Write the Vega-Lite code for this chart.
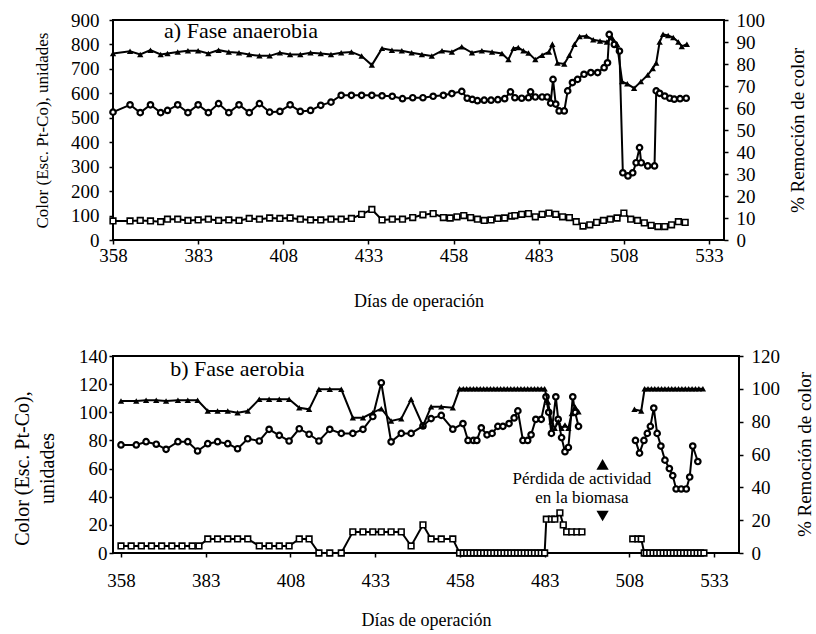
{
  "$schema": "https://vega.github.io/schema/vega-lite/v6.json",
  "background": "white",
  "padding": {"left": 10, "top": 10, "right": 0, "bottom": 2},
  "bounds": "flush",
  "spacing": 116,
  "config": {
    "font": "Liberation Serif",
    "view": {"stroke": "black", "strokeWidth": 2},
    "axis": {"grid": false, "domain": false, "tickColor": "black", "tickWidth": 1.5, "tickSize": 4, "labelColor": "black", "titleColor": "black", "labelFont": "Liberation Serif", "titleFont": "Liberation Serif", "titleFontWeight": "normal", "labelFontSize": 19, "titleFontSize": 18, "labelFlush": false}
  },
  "datasets": {
    "aL": [
      {"d":358,"s":"c","v":523},{"d":363,"s":"c","v":553},{"d":366,"s":"c","v":521},{"d":369,"s":"c","v":553},{"d":372,"s":"c","v":521},{"d":374,"s":"c","v":530},{"d":377,"s":"c","v":553},{"d":380,"s":"c","v":521},{"d":383,"s":"c","v":553},{"d":386,"s":"c","v":521},{"d":389,"s":"c","v":558},{"d":392,"s":"c","v":521},{"d":395,"s":"c","v":553},{"d":398,"s":"c","v":521},{"d":401,"s":"c","v":558},{"d":404,"s":"c","v":523},{"d":407,"s":"c","v":526},{"d":410,"s":"c","v":553},{"d":413,"s":"c","v":526},{"d":416,"s":"c","v":530},{"d":419,"s":"c","v":551},{"d":422,"s":"c","v":564},{"d":425,"s":"c","v":592},{"d":428,"s":"c","v":592},{"d":431,"s":"c","v":592},{"d":434,"s":"c","v":592},{"d":437,"s":"c","v":590},{"d":440,"s":"c","v":588},{"d":443,"s":"c","v":578},{"d":446,"s":"c","v":582},{"d":449,"s":"c","v":582},{"d":452,"s":"c","v":588},{"d":455,"s":"c","v":592},{"d":457.5,"s":"c","v":599},{"d":460.4,"s":"c","v":608},{"d":462,"s":"c","v":580},{"d":463.5,"s":"c","v":575},{"d":465,"s":"c","v":570},{"d":467,"s":"c","v":572},{"d":469,"s":"c","v":572},{"d":471,"s":"c","v":574},{"d":473,"s":"c","v":578},{"d":474.7,"s":"c","v":606},{"d":476,"s":"c","v":582},{"d":478,"s":"c","v":580},{"d":480,"s":"c","v":582},{"d":480.6,"s":"c","v":606},{"d":482,"s":"c","v":585},{"d":484,"s":"c","v":585},{"d":485.5,"s":"c","v":585},{"d":486.5,"s":"c","v":560},{"d":487.2,"s":"c","v":657},{"d":488,"s":"c","v":556},{"d":489,"s":"c","v":528},{"d":490.5,"s":"c","v":528},{"d":491.5,"s":"c","v":610},{"d":492.9,"s":"c","v":644},{"d":494.4,"s":"c","v":657},{"d":496.3,"s":"c","v":678},{"d":498.3,"s":"c","v":685},{"d":500.3,"s":"c","v":685},{"d":502.2,"s":"c","v":705},{"d":503.2,"s":"c","v":725},{"d":503.7,"s":"c","v":841},{"d":505.2,"s":"c","v":800},{"d":506.7,"s":"c","v":773},{"d":507.7,"s":"c","v":275},{"d":509.2,"s":"c","v":262},{"d":510.6,"s":"c","v":275},{"d":511.6,"s":"c","v":316},{"d":512.6,"s":"c","v":378},{"d":513.1,"s":"c","v":316},{"d":515,"s":"c","v":303},{"d":517,"s":"c","v":303},{"d":517.5,"s":"c","v":610},{"d":518.5,"s":"c","v":600},{"d":520,"s":"c","v":589},{"d":521.5,"s":"c","v":580},{"d":522.8,"s":"c","v":576},{"d":524.5,"s":"c","v":578},{"d":526.3,"s":"c","v":580},
      {"d":358,"s":"q","v":78},{"d":363,"s":"q","v":78},{"d":366,"s":"q","v":80},{"d":369,"s":"q","v":78},{"d":372,"s":"q","v":75},{"d":374,"s":"q","v":85},{"d":377,"s":"q","v":85},{"d":380,"s":"q","v":80},{"d":383,"s":"q","v":82},{"d":386,"s":"q","v":85},{"d":389,"s":"q","v":80},{"d":392,"s":"q","v":82},{"d":395,"s":"q","v":80},{"d":398,"s":"q","v":88},{"d":401,"s":"q","v":85},{"d":404,"s":"q","v":90},{"d":407,"s":"q","v":88},{"d":410,"s":"q","v":90},{"d":413,"s":"q","v":85},{"d":416,"s":"q","v":82},{"d":419,"s":"q","v":82},{"d":422,"s":"q","v":85},{"d":425,"s":"q","v":85},{"d":428,"s":"q","v":88},{"d":431,"s":"q","v":105},{"d":434,"s":"q","v":125},{"d":437,"s":"q","v":82},{"d":440,"s":"q","v":85},{"d":443,"s":"q","v":85},{"d":446,"s":"q","v":92},{"d":449,"s":"q","v":103},{"d":452,"s":"q","v":108},{"d":455,"s":"q","v":92},{"d":457,"s":"q","v":90},{"d":459,"s":"q","v":95},{"d":461,"s":"q","v":100},{"d":463,"s":"q","v":92},{"d":465,"s":"q","v":85},{"d":467,"s":"q","v":80},{"d":469,"s":"q","v":82},{"d":471,"s":"q","v":88},{"d":473,"s":"q","v":90},{"d":475,"s":"q","v":98},{"d":476,"s":"q","v":100},{"d":478,"s":"q","v":105},{"d":480,"s":"q","v":108},{"d":482,"s":"q","v":95},{"d":484,"s":"q","v":105},{"d":486,"s":"q","v":110},{"d":488,"s":"q","v":105},{"d":490,"s":"q","v":95},{"d":492,"s":"q","v":92},{"d":494,"s":"q","v":75},{"d":496,"s":"q","v":57},{"d":498,"s":"q","v":62},{"d":500,"s":"q","v":72},{"d":502,"s":"q","v":80},{"d":504,"s":"q","v":85},{"d":506,"s":"q","v":90},{"d":508,"s":"q","v":110},{"d":510,"s":"q","v":85},{"d":512,"s":"q","v":80},{"d":514,"s":"q","v":70},{"d":516,"s":"q","v":60},{"d":518,"s":"q","v":55},{"d":520,"s":"q","v":55},{"d":522,"s":"q","v":62},{"d":524,"s":"q","v":75},{"d":526,"s":"q","v":72}
    ],
    "aR": [
      {"d":358,"v":84.8},{"d":363,"v":85.8},{"d":366,"v":84.3},{"d":369,"v":86.3},{"d":372,"v":84.3},{"d":374,"v":84.8},{"d":377,"v":85.5},{"d":380,"v":86},{"d":383,"v":86},{"d":386,"v":84.8},{"d":389,"v":86.3},{"d":392,"v":85.5},{"d":395,"v":85.1},{"d":398,"v":84.3},{"d":401,"v":83.7},{"d":404,"v":83.7},{"d":407,"v":85.1},{"d":410,"v":84.3},{"d":413,"v":84.3},{"d":416,"v":85.1},{"d":419,"v":84.8},{"d":422,"v":84.3},{"d":425,"v":85.1},{"d":428,"v":85.5},{"d":431,"v":83.6},{"d":434,"v":79.5},{"d":437,"v":87.1},{"d":439.9,"v":86.3},{"d":442.8,"v":86},{"d":445.7,"v":85.1},{"d":448.7,"v":84.3},{"d":451.6,"v":83.6},{"d":454.6,"v":86},{"d":457.5,"v":85.5},{"d":460.4,"v":87.8},{"d":463.4,"v":85.1},{"d":466.3,"v":86},{"d":469.3,"v":85.5},{"d":472.2,"v":84.8},{"d":474.1,"v":82},{"d":475.6,"v":87.1},{"d":477,"v":87.5},{"d":478.5,"v":86},{"d":480,"v":85},{"d":482,"v":82},{"d":484,"v":84},{"d":486,"v":85.5},{"d":487,"v":89},{"d":488.5,"v":80.5},{"d":490.5,"v":80},{"d":492,"v":84},{"d":493.5,"v":89},{"d":495,"v":92.5},{"d":497,"v":92.7},{"d":499,"v":91},{"d":501,"v":90.5},{"d":503,"v":90},{"d":504.5,"v":92},{"d":506,"v":89},{"d":507.5,"v":72},{"d":509,"v":71},{"d":511,"v":69},{"d":513,"v":72},{"d":515,"v":75},{"d":516.5,"v":78},{"d":517.5,"v":80.5},{"d":518.5,"v":90},{"d":519.5,"v":93.5},{"d":521,"v":93},{"d":522.5,"v":92},{"d":524,"v":90},{"d":525,"v":88},{"d":526.5,"v":89}
    ],
    "bL": [
      {"d":358,"s":"c","g":1,"v":76.8},{"d":362.5,"s":"c","g":1,"v":76.8},{"d":365.4,"s":"c","g":1,"v":79.1},{"d":368.4,"s":"c","g":1,"v":77.3},{"d":371.3,"s":"c","g":1,"v":73.7},{"d":374.8,"s":"c","g":1,"v":79.1},{"d":377.7,"s":"c","g":1,"v":79.1},{"d":380.6,"s":"c","g":1,"v":72.5},{"d":383.6,"s":"c","g":1,"v":77.7},{"d":386.5,"s":"c","g":1,"v":79.1},{"d":389.5,"s":"c","g":1,"v":77.7},{"d":392.4,"s":"c","g":1,"v":74.1},{"d":395.4,"s":"c","g":1,"v":81.2},{"d":398.8,"s":"c","g":1,"v":79.6},{"d":401.7,"s":"c","g":1,"v":87.9},{"d":404.7,"s":"c","g":1,"v":83.6},{"d":407.6,"s":"c","g":1,"v":79.6},{"d":410.6,"s":"c","g":1,"v":88.3},{"d":413.5,"s":"c","g":1,"v":84.4},{"d":416.4,"s":"c","g":1,"v":79.6},{"d":419.6,"s":"c","g":1,"v":87.9},{"d":423,"s":"c","g":1,"v":85},{"d":426.4,"s":"c","g":1,"v":85},{"d":429.4,"s":"c","g":1,"v":87.9},{"d":432.3,"s":"c","g":1,"v":97},{"d":434.8,"s":"c","g":1,"v":121},{"d":437.7,"s":"c","g":1,"v":79},{"d":440.7,"s":"c","g":1,"v":85},{"d":443.6,"s":"c","g":1,"v":85},{"d":447.1,"s":"c","g":1,"v":90.3},{"d":449.5,"s":"c","g":1,"v":95.5},{"d":452.5,"s":"c","g":1,"v":97.8},{"d":455.9,"s":"c","g":1,"v":88},{"d":458.9,"s":"c","g":1,"v":92},{"d":460.4,"s":"c","g":1,"v":80},{"d":462,"s":"c","g":1,"v":80},{"d":463,"s":"c","g":1,"v":80},{"d":464.3,"s":"c","g":1,"v":89},{"d":466,"s":"c","g":1,"v":84},{"d":467.5,"s":"c","g":1,"v":85},{"d":469.2,"s":"c","g":1,"v":90},{"d":470.7,"s":"c","g":1,"v":90},{"d":472.5,"s":"c","g":1,"v":92},{"d":474,"s":"c","g":1,"v":96},{"d":475.1,"s":"c","g":1,"v":101},{"d":476.6,"s":"c","g":1,"v":80},{"d":478,"s":"c","g":1,"v":80},{"d":479,"s":"c","g":1,"v":84},{"d":480.4,"s":"c","g":1,"v":95},{"d":482,"s":"c","g":1,"v":95},{"d":483.4,"s":"c","g":1,"v":111},{"d":484.2,"s":"c","g":1,"v":100},{"d":485,"s":"c","g":1,"v":85},{"d":486.3,"s":"c","g":1,"v":111},{"d":487,"s":"c","g":1,"v":95},{"d":488,"s":"c","g":1,"v":82},{"d":489,"s":"c","g":1,"v":72},{"d":490,"s":"c","g":1,"v":75},{"d":491.3,"s":"c","g":1,"v":111},{"d":492,"s":"c","g":1,"v":100},{"d":493,"s":"c","g":1,"v":90},
      {"d":509.8,"s":"c","g":2,"v":80},{"d":511,"s":"c","g":2,"v":71},{"d":512.3,"s":"c","g":2,"v":80},{"d":513.3,"s":"c","g":2,"v":85},{"d":514.2,"s":"c","g":2,"v":90},{"d":515.2,"s":"c","g":2,"v":103},{"d":516.2,"s":"c","g":2,"v":85},{"d":517.3,"s":"c","g":2,"v":76},{"d":518.5,"s":"c","g":2,"v":66},{"d":519.8,"s":"c","g":2,"v":60},{"d":520.8,"s":"c","g":2,"v":55},{"d":521.8,"s":"c","g":2,"v":45.5},{"d":523.3,"s":"c","g":2,"v":45.5},{"d":524.8,"s":"c","g":2,"v":45.5},{"d":525.8,"s":"c","g":2,"v":54},{"d":526.7,"s":"c","g":2,"v":76},{"d":528.2,"s":"c","g":2,"v":65},
      {"d":358,"s":"q","g":1,"v":5},{"d":361,"s":"q","g":1,"v":5},{"d":364,"s":"q","g":1,"v":5},{"d":367,"s":"q","g":1,"v":5},{"d":370,"s":"q","g":1,"v":5},{"d":373,"s":"q","g":1,"v":5},{"d":376,"s":"q","g":1,"v":5},{"d":379,"s":"q","g":1,"v":5},{"d":381,"s":"q","g":1,"v":5},{"d":383.6,"s":"q","g":1,"v":10},{"d":386.5,"s":"q","g":1,"v":10},{"d":389.5,"s":"q","g":1,"v":10},{"d":392.4,"s":"q","g":1,"v":10},{"d":395.4,"s":"q","g":1,"v":10},{"d":398.8,"s":"q","g":1,"v":5},{"d":401.7,"s":"q","g":1,"v":5},{"d":404.7,"s":"q","g":1,"v":5},{"d":407.6,"s":"q","g":1,"v":5},{"d":410.6,"s":"q","g":1,"v":10},{"d":413.5,"s":"q","g":1,"v":10},{"d":416.4,"s":"q","g":1,"v":0},{"d":419.6,"s":"q","g":1,"v":0},{"d":423,"s":"q","g":1,"v":0},{"d":426.4,"s":"q","g":1,"v":15},{"d":429.4,"s":"q","g":1,"v":15},{"d":432.3,"s":"q","g":1,"v":15},{"d":434.8,"s":"q","g":1,"v":15},{"d":437.7,"s":"q","g":1,"v":15},{"d":440.7,"s":"q","g":1,"v":15},{"d":443.6,"s":"q","g":1,"v":5},{"d":447.1,"s":"q","g":1,"v":20},{"d":449.5,"s":"q","g":1,"v":10},{"d":452.5,"s":"q","g":1,"v":10},{"d":455.9,"s":"q","g":1,"v":10},{"d":457.9,"s":"q","g":1,"v":0},{"d":459,"s":"q","g":1,"v":0},{"d":460,"s":"q","g":1,"v":0},{"d":461,"s":"q","g":1,"v":0},{"d":462,"s":"q","g":1,"v":0},{"d":463,"s":"q","g":1,"v":0},{"d":464,"s":"q","g":1,"v":0},{"d":465,"s":"q","g":1,"v":0},{"d":466,"s":"q","g":1,"v":0},{"d":467,"s":"q","g":1,"v":0},{"d":468,"s":"q","g":1,"v":0},{"d":469,"s":"q","g":1,"v":0},{"d":470,"s":"q","g":1,"v":0},{"d":471,"s":"q","g":1,"v":0},{"d":472,"s":"q","g":1,"v":0},{"d":473,"s":"q","g":1,"v":0},{"d":474,"s":"q","g":1,"v":0},{"d":475,"s":"q","g":1,"v":0},{"d":476,"s":"q","g":1,"v":0},{"d":477,"s":"q","g":1,"v":0},{"d":478,"s":"q","g":1,"v":0},{"d":479,"s":"q","g":1,"v":0},{"d":480,"s":"q","g":1,"v":0},{"d":481,"s":"q","g":1,"v":0},{"d":482,"s":"q","g":1,"v":0},{"d":483,"s":"q","g":1,"v":0},{"d":483.5,"s":"q","g":1,"v":24},{"d":485,"s":"q","g":1,"v":24},{"d":486,"s":"q","g":1,"v":24},{"d":487.5,"s":"q","g":1,"v":28.6},{"d":488.5,"s":"q","g":1,"v":20},{"d":489.5,"s":"q","g":1,"v":15},{"d":491,"s":"q","g":1,"v":15},{"d":492.5,"s":"q","g":1,"v":15},{"d":494,"s":"q","g":1,"v":15},
      {"d":509,"s":"q","g":2,"v":10},{"d":510.5,"s":"q","g":2,"v":10},{"d":511.5,"s":"q","g":2,"v":10},{"d":512.4,"s":"q","g":2,"v":0},{"d":513,"s":"q","g":2,"v":0},{"d":514,"s":"q","g":2,"v":0},{"d":515,"s":"q","g":2,"v":0},{"d":516,"s":"q","g":2,"v":0},{"d":517,"s":"q","g":2,"v":0},{"d":518,"s":"q","g":2,"v":0},{"d":519,"s":"q","g":2,"v":0},{"d":520,"s":"q","g":2,"v":0},{"d":521,"s":"q","g":2,"v":0},{"d":522,"s":"q","g":2,"v":0},{"d":523,"s":"q","g":2,"v":0},{"d":524,"s":"q","g":2,"v":0},{"d":525,"s":"q","g":2,"v":0},{"d":526,"s":"q","g":2,"v":0},{"d":527,"s":"q","g":2,"v":0},{"d":528,"s":"q","g":2,"v":0},{"d":529,"s":"q","g":2,"v":0},{"d":530,"s":"q","g":2,"v":0}
    ],
    "bR": [
      {"d":358,"g":1,"v":92.6},{"d":362.5,"g":1,"v":92.6},{"d":365.4,"g":1,"v":93},{"d":368.4,"g":1,"v":93},{"d":371.3,"g":1,"v":92.6},{"d":374.8,"g":1,"v":93},{"d":377.7,"g":1,"v":93},{"d":380.6,"g":1,"v":93},{"d":383.6,"g":1,"v":86.5},{"d":386.5,"g":1,"v":86.5},{"d":389.5,"g":1,"v":86.5},{"d":392.4,"g":1,"v":85.5},{"d":395.4,"g":1,"v":86.5},{"d":398.8,"g":1,"v":93.6},{"d":401.7,"g":1,"v":93.6},{"d":404.7,"g":1,"v":93.6},{"d":407.6,"g":1,"v":93.6},{"d":410.6,"g":1,"v":88.5},{"d":413.5,"g":1,"v":87.5},{"d":416.4,"g":1,"v":99.7},{"d":419.6,"g":1,"v":99.7},{"d":423,"g":1,"v":99.7},{"d":426.4,"g":1,"v":82.4},{"d":429.4,"g":1,"v":82.4},{"d":432.3,"g":1,"v":85.5},{"d":434.8,"g":1,"v":87.9},{"d":437.7,"g":1,"v":80.4},{"d":440.7,"g":1,"v":81.8},{"d":443.6,"g":1,"v":93.6},{"d":447.1,"g":1,"v":77.4},{"d":449.5,"g":1,"v":89.1},{"d":452.5,"g":1,"v":89.1},{"d":455.9,"g":1,"v":88.5},{"d":457.9,"g":1,"v":100},{"d":459,"g":1,"v":100},{"d":460,"g":1,"v":100},{"d":461,"g":1,"v":100},{"d":462,"g":1,"v":100},{"d":463,"g":1,"v":100},{"d":464,"g":1,"v":100},{"d":465,"g":1,"v":100},{"d":466,"g":1,"v":100},{"d":467,"g":1,"v":100},{"d":468,"g":1,"v":100},{"d":469,"g":1,"v":100},{"d":470,"g":1,"v":100},{"d":471,"g":1,"v":100},{"d":472,"g":1,"v":100},{"d":473,"g":1,"v":100},{"d":474,"g":1,"v":100},{"d":475,"g":1,"v":100},{"d":476,"g":1,"v":100},{"d":477,"g":1,"v":100},{"d":478,"g":1,"v":100},{"d":479,"g":1,"v":100},{"d":480,"g":1,"v":100},{"d":481,"g":1,"v":100},{"d":482,"g":1,"v":100},{"d":483,"g":1,"v":100},{"d":484,"g":1,"v":92},{"d":485,"g":1,"v":80},{"d":486,"g":1,"v":76},{"d":487,"g":1,"v":80},{"d":488,"g":1,"v":76},{"d":489,"g":1,"v":78},{"d":490,"g":1,"v":76},{"d":491,"g":1,"v":85},{"d":492,"g":1,"v":89},{"d":493,"g":1,"v":86},
      {"d":509.5,"g":2,"v":87.5},{"d":511.5,"g":2,"v":86.5},{"d":512.5,"g":2,"v":100},{"d":513.5,"g":2,"v":100},{"d":514.5,"g":2,"v":100},{"d":515.5,"g":2,"v":100},{"d":516.5,"g":2,"v":100},{"d":517.5,"g":2,"v":100},{"d":518.5,"g":2,"v":100},{"d":519.5,"g":2,"v":100},{"d":520.5,"g":2,"v":100},{"d":521.5,"g":2,"v":100},{"d":522.5,"g":2,"v":100},{"d":523.5,"g":2,"v":100},{"d":524.5,"g":2,"v":100},{"d":525.5,"g":2,"v":100},{"d":526.5,"g":2,"v":100},{"d":527.5,"g":2,"v":100},{"d":528.5,"g":2,"v":100},{"d":529.7,"g":2,"v":100}
    ]
  },
  "vconcat": [
    {
      "width": 611,
      "height": 220,
      "layer": [
        {
          "layer": [
            {"data": {"name": "aL"}, "mark": {"type": "line", "color": "black", "strokeWidth": 2},
              "encoding": {
                "x": {"field": "d", "type": "quantitative", "scale": {"domain": [358, 537.4], "nice": false, "zero": false}, "axis": {"values": [358, 383, 408, 433, 458, 483, 508, 533], "title": "Días de operación", "labelPadding": 2, "titlePadding": 27}},
                "y": {"field": "v", "type": "quantitative", "scale": {"domain": [0, 900], "nice": false}, "axis": {"values": [0, 100, 200, 300, 400, 500, 600, 700, 800, 900], "title": "Color (Esc. Pt-Co), unidades", "titleFontSize": 17, "labelPadding": 10, "titleAngle": -90, "titleX": -71, "titleY": 110, "titleAlign": "center", "titleBaseline": "middle"}},
                "detail": {"field": "s"}}},
            {"data": {"name": "aL"}, "transform": [{"filter": "datum.s === 'c'"}], "mark": {"type": "point", "shape": "circle", "filled": true, "fill": "white", "stroke": "black", "strokeWidth": 2.2, "size": 30, "opacity": 1},
              "encoding": {
                "x": {"field": "d", "type": "quantitative", "scale": {"domain": [358, 537.4], "nice": false, "zero": false}, "axis": {"values": [358, 383, 408, 433, 458, 483, 508, 533], "title": "Días de operación", "labelPadding": 2, "titlePadding": 27}},
                "y": {"field": "v", "type": "quantitative", "scale": {"domain": [0, 900], "nice": false}, "axis": {"values": [0, 100, 200, 300, 400, 500, 600, 700, 800, 900], "title": "Color (Esc. Pt-Co), unidades", "titleFontSize": 17, "labelPadding": 10, "titleAngle": -90, "titleX": -71, "titleY": 110, "titleAlign": "center", "titleBaseline": "middle"}}}},
            {"data": {"name": "aL"}, "transform": [{"filter": "datum.s === 'q'"}], "mark": {"type": "point", "shape": "square", "filled": true, "fill": "white", "stroke": "black", "strokeWidth": 1.6, "size": 32, "opacity": 1},
              "encoding": {
                "x": {"field": "d", "type": "quantitative", "scale": {"domain": [358, 537.4], "nice": false, "zero": false}, "axis": {"values": [358, 383, 408, 433, 458, 483, 508, 533], "title": "Días de operación", "labelPadding": 2, "titlePadding": 27}},
                "y": {"field": "v", "type": "quantitative", "scale": {"domain": [0, 900], "nice": false}, "axis": {"values": [0, 100, 200, 300, 400, 500, 600, 700, 800, 900], "title": "Color (Esc. Pt-Co), unidades", "titleFontSize": 17, "labelPadding": 10, "titleAngle": -90, "titleX": -71, "titleY": 110, "titleAlign": "center", "titleBaseline": "middle"}}}},
            {"data": {"values": [{}]}, "mark": {"type": "text", "text": "a) Fase anaerobia", "fontSize": 22, "align": "left", "baseline": "middle", "color": "black"},
              "encoding": {
                "x": {"datum": 373, "type": "quantitative", "scale": {"domain": [358, 537.4], "nice": false, "zero": false}, "axis": {"values": [358, 383, 408, 433, 458, 483, 508, 533], "title": "Días de operación", "labelPadding": 2, "titlePadding": 27}},
                "y": {"datum": 855, "type": "quantitative", "scale": {"domain": [0, 900], "nice": false}, "axis": {"values": [0, 100, 200, 300, 400, 500, 600, 700, 800, 900], "title": "Color (Esc. Pt-Co), unidades", "titleFontSize": 17, "labelPadding": 10, "titleAngle": -90, "titleX": -71, "titleY": 110, "titleAlign": "center", "titleBaseline": "middle"}}}}
          ]
        },
        {
          "layer": [
            {"data": {"name": "aR"}, "mark": {"type": "line", "color": "black", "strokeWidth": 2},
              "encoding": {
                "x": {"field": "d", "type": "quantitative", "scale": {"domain": [358, 537.4], "nice": false, "zero": false}, "axis": {"values": [358, 383, 408, 433, 458, 483, 508, 533], "title": "Días de operación", "labelPadding": 2, "titlePadding": 27}},
                "y": {"field": "v", "type": "quantitative", "scale": {"domain": [0, 100], "nice": false}, "axis": {"orient": "right", "values": [0, 10, 20, 30, 40, 50, 60, 70, 80, 90, 100], "title": "% Remoción de color", "titleFontSize": 19, "labelPadding": 8, "titleAngle": -90, "titleX": 73, "titleY": 110, "titleAlign": "center", "titleBaseline": "middle"}}}},
            {"data": {"name": "aR"}, "mark": {"type": "point", "shape": "triangle-up", "filled": true, "color": "black", "size": 40, "opacity": 1},
              "encoding": {
                "x": {"field": "d", "type": "quantitative", "scale": {"domain": [358, 537.4], "nice": false, "zero": false}, "axis": {"values": [358, 383, 408, 433, 458, 483, 508, 533], "title": "Días de operación", "labelPadding": 2, "titlePadding": 27}},
                "y": {"field": "v", "type": "quantitative", "scale": {"domain": [0, 100], "nice": false}, "axis": {"orient": "right", "values": [0, 10, 20, 30, 40, 50, 60, 70, 80, 90, 100], "title": "% Remoción de color", "titleFontSize": 19, "labelPadding": 8, "titleAngle": -90, "titleX": 73, "titleY": 110, "titleAlign": "center", "titleBaseline": "middle"}}}}
          ]
        }
      ],
      "resolve": {"scale": {"y": "independent"}}
    },
    {
      "width": 626,
      "height": 197,
      "layer": [
        {
          "layer": [
            {"data": {"name": "bL"}, "mark": {"type": "line", "color": "black", "strokeWidth": 2},
              "encoding": {
                "x": {"field": "d", "type": "quantitative", "scale": {"domain": [355.64, 540.35], "nice": false, "zero": false}, "axis": {"values": [358, 383, 408, 433, 458, 483, 508, 533], "title": "Días de operación", "labelPadding": 14, "titlePadding": 21}},
                "y": {"field": "v", "type": "quantitative", "scale": {"domain": [0, 140], "nice": false}, "axis": {"values": [0, 20, 40, 60, 80, 100, 120, 140], "title": ["Color (Esc. Pt-Co),", "unidades"], "titleFontSize": 20, "titleLineHeight": 25, "labelPadding": 2, "titleAngle": -90, "titleX": -91, "titleY": 112, "titleAlign": "center", "titleBaseline": "middle"}},
                "detail": [{"field": "s"}, {"field": "g"}]}},
            {"data": {"name": "bL"}, "transform": [{"filter": "datum.s === 'c'"}], "mark": {"type": "point", "shape": "circle", "filled": true, "fill": "white", "stroke": "black", "strokeWidth": 2.2, "size": 30, "opacity": 1},
              "encoding": {
                "x": {"field": "d", "type": "quantitative", "scale": {"domain": [355.64, 540.35], "nice": false, "zero": false}, "axis": {"values": [358, 383, 408, 433, 458, 483, 508, 533], "title": "Días de operación", "labelPadding": 14, "titlePadding": 21}},
                "y": {"field": "v", "type": "quantitative", "scale": {"domain": [0, 140], "nice": false}, "axis": {"values": [0, 20, 40, 60, 80, 100, 120, 140], "title": ["Color (Esc. Pt-Co),", "unidades"], "titleFontSize": 20, "titleLineHeight": 25, "labelPadding": 2, "titleAngle": -90, "titleX": -91, "titleY": 112, "titleAlign": "center", "titleBaseline": "middle"}}}},
            {"data": {"name": "bL"}, "transform": [{"filter": "datum.s === 'q'"}], "mark": {"type": "point", "shape": "square", "filled": true, "fill": "white", "stroke": "black", "strokeWidth": 1.6, "size": 32, "opacity": 1},
              "encoding": {
                "x": {"field": "d", "type": "quantitative", "scale": {"domain": [355.64, 540.35], "nice": false, "zero": false}, "axis": {"values": [358, 383, 408, 433, 458, 483, 508, 533], "title": "Días de operación", "labelPadding": 14, "titlePadding": 21}},
                "y": {"field": "v", "type": "quantitative", "scale": {"domain": [0, 140], "nice": false}, "axis": {"values": [0, 20, 40, 60, 80, 100, 120, 140], "title": ["Color (Esc. Pt-Co),", "unidades"], "titleFontSize": 20, "titleLineHeight": 25, "labelPadding": 2, "titleAngle": -90, "titleX": -91, "titleY": 112, "titleAlign": "center", "titleBaseline": "middle"}}}},
            {"data": {"values": [{"t": "b) Fase aerobia"}]}, "mark": {"type": "text", "fontSize": 22, "align": "left", "baseline": "middle", "color": "black"},
              "encoding": {
                "text": {"field": "t"},
                "x": {"datum": 372.5, "type": "quantitative", "scale": {"domain": [355.64, 540.35], "nice": false, "zero": false}, "axis": {"values": [358, 383, 408, 433, 458, 483, 508, 533], "title": "Días de operación", "labelPadding": 14, "titlePadding": 21}},
                "y": {"datum": 131, "type": "quantitative", "scale": {"domain": [0, 140], "nice": false}, "axis": {"values": [0, 20, 40, 60, 80, 100, 120, 140], "title": ["Color (Esc. Pt-Co),", "unidades"], "titleFontSize": 20, "titleLineHeight": 25, "labelPadding": 2, "titleAngle": -90, "titleX": -91, "titleY": 112, "titleAlign": "center", "titleBaseline": "middle"}}}},
            {"data": {"values": [{"t": "Pérdida de actividad"}]}, "mark": {"type": "text", "fontSize": 17, "align": "center", "baseline": "middle", "color": "black"},
              "encoding": {
                "text": {"field": "t"},
                "x": {"datum": 494, "type": "quantitative", "scale": {"domain": [355.64, 540.35], "nice": false, "zero": false}, "axis": {"values": [358, 383, 408, 433, 458, 483, 508, 533], "title": "Días de operación", "labelPadding": 14, "titlePadding": 21}},
                "y": {"datum": 52.6, "type": "quantitative", "scale": {"domain": [0, 140], "nice": false}, "axis": {"values": [0, 20, 40, 60, 80, 100, 120, 140], "title": ["Color (Esc. Pt-Co),", "unidades"], "titleFontSize": 20, "titleLineHeight": 25, "labelPadding": 2, "titleAngle": -90, "titleX": -91, "titleY": 112, "titleAlign": "center", "titleBaseline": "middle"}}}},
            {"data": {"values": [{"t": "en la biomasa"}]}, "mark": {"type": "text", "fontSize": 17, "align": "center", "baseline": "middle", "color": "black"},
              "encoding": {
                "text": {"field": "t"},
                "x": {"datum": 494, "type": "quantitative", "scale": {"domain": [355.64, 540.35], "nice": false, "zero": false}, "axis": {"values": [358, 383, 408, 433, 458, 483, 508, 533], "title": "Días de operación", "labelPadding": 14, "titlePadding": 21}},
                "y": {"datum": 39.3, "type": "quantitative", "scale": {"domain": [0, 140], "nice": false}, "axis": {"values": [0, 20, 40, 60, 80, 100, 120, 140], "title": ["Color (Esc. Pt-Co),", "unidades"], "titleFontSize": 20, "titleLineHeight": 25, "labelPadding": 2, "titleAngle": -90, "titleX": -91, "titleY": 112, "titleAlign": "center", "titleBaseline": "middle"}}}},
            {"data": {"values": [{}]}, "mark": {"type": "point", "shape": "triangle-up", "filled": true, "color": "black", "size": 150, "opacity": 1},
              "encoding": {
                "x": {"datum": 500.1, "type": "quantitative", "scale": {"domain": [355.64, 540.35], "nice": false, "zero": false}, "axis": {"values": [358, 383, 408, 433, 458, 483, 508, 533], "title": "Días de operación", "labelPadding": 14, "titlePadding": 21}},
                "y": {"datum": 63, "type": "quantitative", "scale": {"domain": [0, 140], "nice": false}, "axis": {"values": [0, 20, 40, 60, 80, 100, 120, 140], "title": ["Color (Esc. Pt-Co),", "unidades"], "titleFontSize": 20, "titleLineHeight": 25, "labelPadding": 2, "titleAngle": -90, "titleX": -91, "titleY": 112, "titleAlign": "center", "titleBaseline": "middle"}}}},
            {"data": {"values": [{}]}, "mark": {"type": "point", "shape": "triangle-down", "filled": true, "color": "black", "size": 150, "opacity": 1},
              "encoding": {
                "x": {"datum": 500.1, "type": "quantitative", "scale": {"domain": [355.64, 540.35], "nice": false, "zero": false}, "axis": {"values": [358, 383, 408, 433, 458, 483, 508, 533], "title": "Días de operación", "labelPadding": 14, "titlePadding": 21}},
                "y": {"datum": 26.3, "type": "quantitative", "scale": {"domain": [0, 140], "nice": false}, "axis": {"values": [0, 20, 40, 60, 80, 100, 120, 140], "title": ["Color (Esc. Pt-Co),", "unidades"], "titleFontSize": 20, "titleLineHeight": 25, "labelPadding": 2, "titleAngle": -90, "titleX": -91, "titleY": 112, "titleAlign": "center", "titleBaseline": "middle"}}}}
          ]
        },
        {
          "layer": [
            {"data": {"name": "bR"}, "mark": {"type": "line", "color": "black", "strokeWidth": 2},
              "encoding": {
                "x": {"field": "d", "type": "quantitative", "scale": {"domain": [355.64, 540.35], "nice": false, "zero": false}, "axis": {"values": [358, 383, 408, 433, 458, 483, 508, 533], "title": "Días de operación", "labelPadding": 14, "titlePadding": 21}},
                "y": {"field": "v", "type": "quantitative", "scale": {"domain": [0, 120], "nice": false}, "axis": {"orient": "right", "values": [0, 20, 40, 60, 80, 100, 120], "title": "% Remoción de color", "titleFontSize": 19, "labelPadding": 8, "titleAngle": -90, "titleX": 65, "titleY": 98, "titleAlign": "center", "titleBaseline": "middle"}},
                "detail": {"field": "g"}}},
            {"data": {"name": "bR"}, "mark": {"type": "point", "shape": "triangle-up", "filled": true, "color": "black", "size": 40, "opacity": 1},
              "encoding": {
                "x": {"field": "d", "type": "quantitative", "scale": {"domain": [355.64, 540.35], "nice": false, "zero": false}, "axis": {"values": [358, 383, 408, 433, 458, 483, 508, 533], "title": "Días de operación", "labelPadding": 14, "titlePadding": 21}},
                "y": {"field": "v", "type": "quantitative", "scale": {"domain": [0, 120], "nice": false}, "axis": {"orient": "right", "values": [0, 20, 40, 60, 80, 100, 120], "title": "% Remoción de color", "titleFontSize": 19, "labelPadding": 8, "titleAngle": -90, "titleX": 65, "titleY": 98, "titleAlign": "center", "titleBaseline": "middle"}}}}
          ]
        }
      ],
      "resolve": {"scale": {"y": "independent"}}
    }
  ]
}
